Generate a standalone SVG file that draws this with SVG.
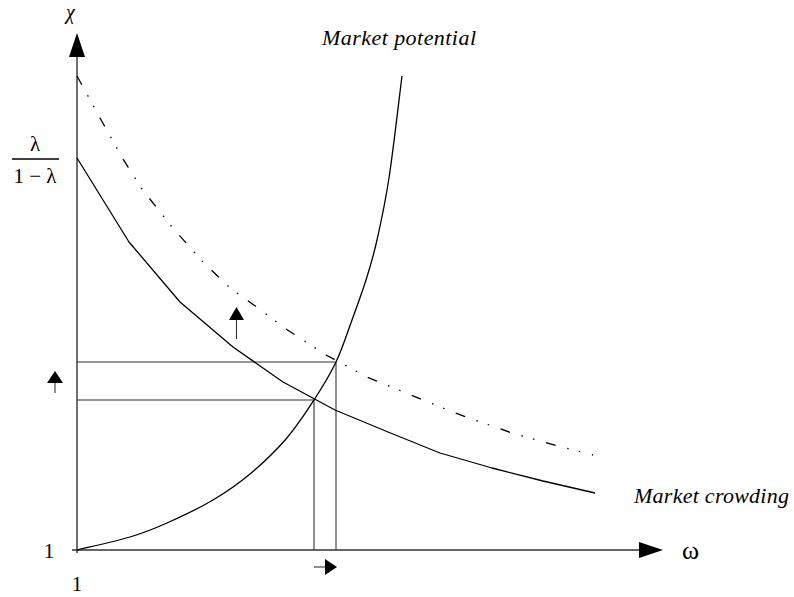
<svg xmlns="http://www.w3.org/2000/svg" width="794" height="597" viewBox="0 0 794 597">
<style>
.ax{stroke:#333;stroke-width:1.4;fill:none}
.ln{stroke:#333;stroke-width:1.1;fill:none}
.cv{stroke:#000;stroke-width:1.3;fill:none;stroke-linejoin:round}
.dd{stroke:#000;stroke-width:1.3;fill:none;stroke-dasharray:10 12 1.5 10.5 1.5 12}
.hd{fill:#000;stroke:none}
.t{font-family:"Liberation Serif","Times New Roman",serif;fill:#000}
.it{font-family:"Liberation Serif","Times New Roman",serif;font-style:italic;fill:#000}
</style>
<rect width="794" height="597" fill="#fff"/>
<g id="axes">
<line class="ax" x1="77" y1="553" x2="77" y2="56"/>
<polygon class="hd" points="77,33 69,57 85,57"/>
<line class="ax" x1="72" y1="550" x2="640" y2="550"/>
<polygon class="hd" points="663,550 639,542 639,558"/>
</g>
<g id="connectors">
<line class="ln" x1="77" y1="362" x2="336" y2="362"/>
<line class="ln" x1="77" y1="400" x2="314" y2="400"/>
<line class="ln" x1="314" y1="400" x2="314" y2="550"/>
<line class="ln" x1="336" y1="362" x2="336" y2="550"/>
</g>
<g id="market-crowding-curve">
<polyline class="cv" points="77,158 129,242 180,302 233,347 283,382 335,410 388,432 440,453 492,468 543,481 595,493"/>
</g>
<g id="shifted-crowding-curve">
<polyline class="dd" points="77,76 100,118 123,159 142,189 172,227 203,262 230,288 258,308 286,329 326,355 367,377 455,413 512,433 558,446 593,455"/>
</g>
<g id="market-potential-curve">
<path class="cv" d="M77,550 C85.8,547.8 115,541.5 130,537 C145,532.5 153.2,529.2 167,523 C180.8,516.8 199.2,508.2 213,500 C226.8,491.8 237.8,484.2 250,474 C262.2,463.8 275.3,451.3 286,439 C296.7,426.7 305.7,412.8 314,400 C322.3,387.2 329.7,375.3 336,362 C342.3,348.7 347,333.7 352,320 C357,306.3 361.8,293.3 366,280 C370.2,266.7 373.2,257 377,240 C380.8,223 384.8,205.3 389,178 C393.2,150.7 399.8,93 402,76"/>
</g>
<g id="shift-arrows">
<line class="ln" x1="236.5" y1="319" x2="236.5" y2="339"/>
<polygon class="hd" points="236.5,307 229,320 244,320"/>
<line class="ln" x1="55" y1="382" x2="55" y2="393"/>
<polygon class="hd" points="55,371 47,383 63,383"/>
<line class="ln" x1="314" y1="567" x2="326" y2="567"/>
<polygon class="hd" points="337,567 325,559 325,575"/>
</g>
<g id="labels">
<text class="it" x="66" y="19" font-size="20">χ</text>
<text class="t" x="35" y="151" font-size="21" text-anchor="middle">λ</text>
<line x1="12" y1="159" x2="59" y2="159" stroke="#000" stroke-width="1.5"/>
<text class="t" x="35" y="183" font-size="21" text-anchor="middle">1 − λ</text>
<text class="t" x="49" y="558" font-size="21" text-anchor="middle">1</text>
<text class="t" x="77" y="591" font-size="21" text-anchor="middle">1</text>
<text class="t" x="682" y="559" font-size="26">ω</text>
<text class="it" x="322" y="45" font-size="22" textLength="154" lengthAdjust="spacing">Market potential</text>
<text class="it" x="634" y="503" font-size="22" textLength="155" lengthAdjust="spacing">Market crowding</text>
</g>
</svg>
